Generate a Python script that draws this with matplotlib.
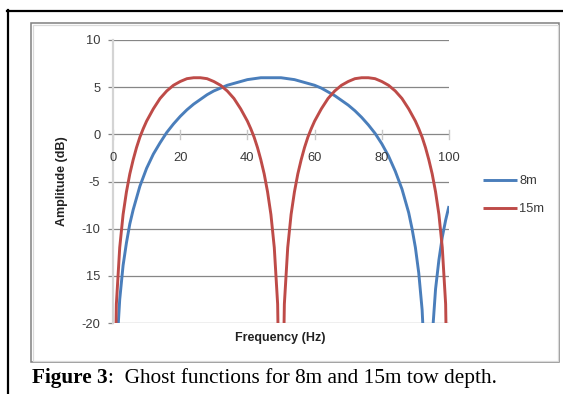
import matplotlib
matplotlib.use("Agg")
import matplotlib.pyplot as plt
from matplotlib.lines import Line2D
from matplotlib.patches import Rectangle

# ---- data ----
freq_8m = [1, 2, 3, 4, 5, 6,
           8, 10, 12, 14, 16, 18, 20, 22, 24, 26, 28, 30, 32, 34, 36, 38, 40,
           42, 44, 46, 48, 50, 52, 54, 56, 58, 60, 62, 64, 66, 68, 70, 72, 74,
           76, 78, 80, 82, 84, 86, 88,
           89, 90, 91, 92, 93, 94, 95, 96, 97, 98, 99, 100]
amp_8m = [-23.5, -17.5, -13.9, -11.5, -9.5, -8.0,
          -5.5, -3.6, -2.1, -0.9, 0.2, 1.1, 1.9, 2.6, 3.2, 3.7, 4.2, 4.6, 4.9, 5.2, 5.4, 5.6, 5.8,
          5.9, 6.0, 6.0, 6.0, 6.0, 5.9, 5.8, 5.6, 5.4, 5.2, 4.9, 4.5, 4.1, 3.6, 3.1, 2.5, 1.8,
          1.0, 0.1, -1.0, -2.3, -3.9, -5.8, -8.3,
          -10.0, -12.0, -14.7, -18.6, -26.0, -35.5, -21.5, -16.4, -13.3, -10.9, -9.1, -7.6]

freq_15m = [0, 1, 2, 3, 4, 5, 6, 7, 8, 9, 10,
            12, 14, 16, 18, 20, 22, 24, 26, 28, 30, 32, 34, 36, 38, 40,
            41, 42, 43, 44, 45, 46, 47, 48, 49, 50, 51, 52, 53, 54, 55, 56, 57, 58, 59, 60,
            62, 64, 66, 68, 70, 72, 74, 76, 78, 80, 82, 84, 86, 88, 90,
            91, 92, 93, 94, 95, 96, 97, 98, 99, 100]
amp_15m = [-40.0, -18.0, -12.0, -8.5, -6.1, -4.2, -2.7, -1.4, -0.3, 0.6, 1.4,
           2.7, 3.8, 4.6, 5.2, 5.6, 5.9, 6.0, 6.0, 5.9, 5.6, 5.2, 4.6, 3.8, 2.7, 1.4,
           0.6, -0.3, -1.4, -2.7, -4.2, -6.1, -8.5, -12.0, -18.0, -40.0, -18.0, -12.0, -8.5, -6.1, -4.2, -2.7, -1.4, -0.3, 0.6, 1.4,
           2.7, 3.8, 4.6, 5.2, 5.6, 5.9, 6.0, 6.0, 5.9, 5.6, 5.2, 4.6, 3.8, 2.7, 1.4,
           0.6, -0.3, -1.4, -2.7, -4.2, -6.1, -8.5, -12.0, -18.0, -40.0]

x_ticks = [0, 20, 40, 60, 80, 100]
y_ticks = [10, 5, 0, -5, -10, -15, -20]
y_tick_labels = ["10", "5", "0", "-5", "-10", "15", "-20"]
series_names = ["8m", "15m"]

W, H = 563, 394
fig = plt.figure(figsize=(W / 100, H / 100), dpi=100)
fig.patch.set_facecolor("white")

def fx(px):
    return px / W

def fy(py):
    return 1 - py / H

# outer black frame and grey chart frame
fig.add_artist(Line2D([fx(8), fx(8)], [fy(10), fy(394)], color="black", lw=1.6))
fig.add_artist(Line2D([fx(7.4), fx(563)], [fy(11), fy(11)], color="black", lw=1.6))
fig.add_artist(Rectangle((fx(31), fy(362)), fx(559) - fx(31), fy(23) - fy(362),
                         fill=False, edgecolor="#808080", lw=1.1))
fig.add_artist(Rectangle((fx(32.5), fy(360.5)), fx(557.5) - fx(32.5), fy(24.5) - fy(360.5),
                         fill=False, edgecolor="#dadada", lw=0.9))

ax = fig.add_axes([fx(113), fy(323), fx(449) - fx(113), fy(40) - fy(323)])
ax.set_xlim(0, 100)
ax.set_ylim(-20, 10)

c_blue = "#4a7ebb"
c_red = "#be4b48"
l1, = ax.plot(freq_8m, amp_8m, color=c_blue, lw=2.1, solid_capstyle="butt", label=series_names[0])
l2, = ax.plot(freq_15m, amp_15m, color=c_red, lw=2.1, solid_capstyle="butt", label=series_names[1])

for yv in y_ticks:
    ax.axhline(yv, color="#868686", lw=0.9, zorder=0)

for s in ["top", "right", "bottom"]:
    ax.spines[s].set_visible(False)
ax.spines["left"].set_color("#d4d4d4")
ax.spines["left"].set_linewidth(1.6)

tick_font = dict(family="Liberation Sans", size=9.3)
ax.set_yticks(y_ticks)
ax.set_yticklabels(y_tick_labels, **tick_font, color="#3a3a3a")
ax.tick_params(axis="y", length=3.6, width=0.9, color="#868686", pad=5.5)

ax.set_xticks([])
# x tick marks and labels drawn at the zero line
for xv in x_ticks:
    ax.plot([xv, xv], [-0.45, 0.45], color="#c8c8c8", lw=1.0, zorder=0, clip_on=False)
    ax.text(xv, -2.55, str(xv), ha="center", va="center", color="#3a3a3a", **tick_font)

fig.text(fx(62), fy(181), "Amplitude (dB)", rotation=90, ha="center", va="center",
         family="Liberation Sans", size=9, fontweight="bold", color="#222222")
fig.text(fx(280), fy(338), "Frequency (Hz)", ha="center", va="center",
         family="Liberation Sans", size=9, fontweight="bold", color="#222222")

leg = fig.legend(handles=[l1, l2], labels=series_names, loc="upper left",
                 bbox_to_anchor=(fx(478), fy(170)), frameon=False,
                 prop=dict(family="Liberation Sans", size=9.3),
                 handlelength=2.6, handletextpad=0.2, labelspacing=1.25, borderaxespad=0)
for t in leg.get_texts():
    t.set_color("#3a3a3a")

cap_bold = fig.text(fx(32), fy(383), "Figure 3", ha="left", va="baseline",
                    family="Liberation Serif", size=15.3, fontweight="bold", color="black")
fig.canvas.draw()
bb = cap_bold.get_window_extent()
fig.text(bb.x1 / W + 0.5 / W, fy(383), ":  Ghost functions for 8m and 15m tow depth.",
         ha="left", va="baseline", family="Liberation Serif", size=15.3, color="black")

fig.savefig("out.png", dpi=100)
